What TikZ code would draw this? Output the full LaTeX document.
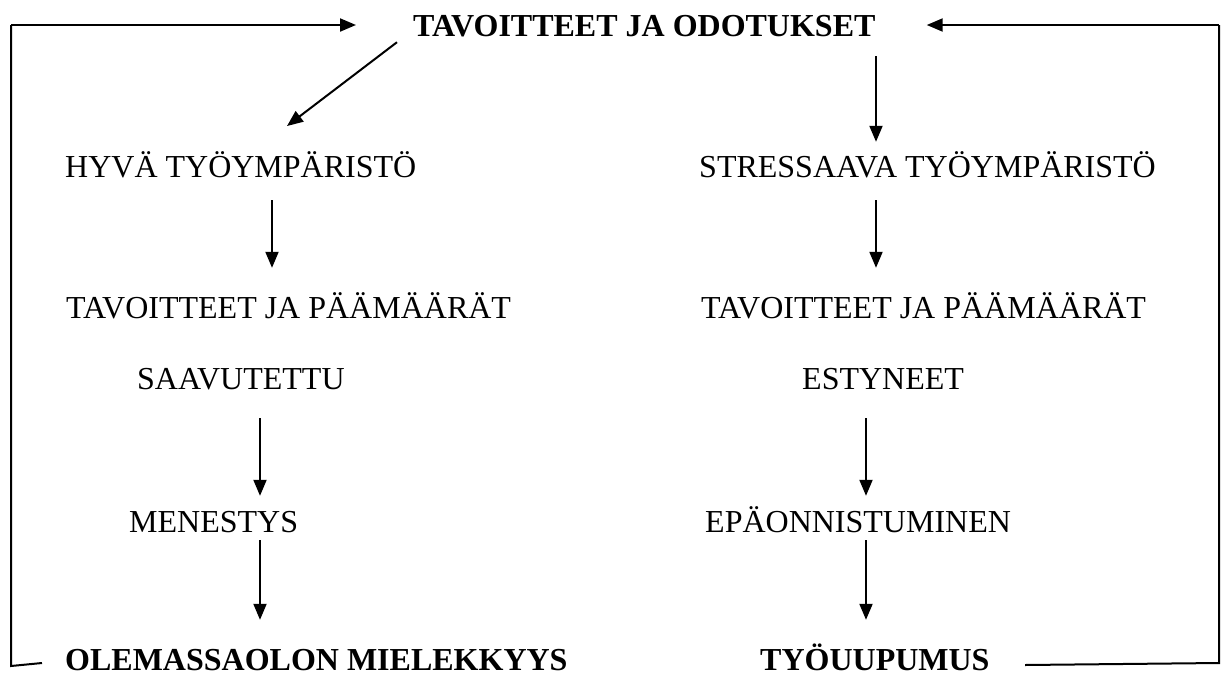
\documentclass[tikz,border=0pt]{standalone}
\usepackage{fontspec}
\setmainfont{Liberation Serif}
\usetikzlibrary{arrows.meta}
\begin{document}
\begin{tikzpicture}[x=1pt,y=-1pt,
  lbl/.style={anchor=base west,inner sep=0pt,text height=22pt,text depth=0pt,font=\fontsize{32}{38}\selectfont},
  blbl/.style={lbl,font=\fontsize{32}{38}\selectfont\bfseries},
  arr/.style={line width=2pt,-{Triangle[length=16pt,width=13pt]}},
  ln/.style={line width=2pt}]
\useasboundingbox (0,0) rectangle (1229,678);
% texts
\node[blbl] (goal) at (413,36) {TAVOITTEET JA ODOTUKSET};
\node[lbl] (hyva) at (65,177) {HYVÄ TYÖYMPÄRISTÖ};
\node[lbl] (stress) at (699,177) {STRESSAAVA TYÖYMPÄRISTÖ};
\node[lbl] (tavL) at (66,318) {TAVOITTEET JA PÄÄMÄÄRÄT};
\node[lbl] (tavR) at (701,318) {TAVOITTEET JA PÄÄMÄÄRÄT};
\node[lbl] (saav) at (137,389) {SAAVUTETTU};
\node[lbl] (estyn) at (802,389) {ESTYNEET};
\node[lbl] (menes) at (129,532) {MENESTYS};
\node[lbl] (epao) at (705,532) {EPÄONNISTUMINEN};
\node[blbl] (olem) at (65,670) {OLEMASSAOLON MIELEKKYYS};
\node[blbl] (tyo) at (760,670) {TYÖUUPUMUS};
% arrow columns
\coordinate (xa) at (272,0);
\coordinate (xb) at (876,0);
\coordinate (xc) at (260,0);
\coordinate (xd) at (866,0);
% loop corners
\coordinate (lt) at (11,25);
\coordinate (lb) at (11,666);
\coordinate (lbe) at (42,663);
\coordinate (rt) at (1219,25);
\coordinate (rb) at (1219,663);
\coordinate (rbe) at (1025,665);
\coordinate (dtip) at (287,126);
% loops
\draw[ln] (lbe) -- (lb) -- (lt);
\draw[arr,shorten >=57pt] (lt) -- (goal.west);
\draw[ln] (rbe) -- (rb) -- (rt);
\draw[arr,shorten >=51pt] (rt) -- (goal.east);
% diagonal
\draw[arr] ([xshift=-16pt,yshift=-6pt]goal.south west) -- (dtip);
% vertical arrows
\draw[arr,shorten <=20pt,shorten >=13pt] (goal.south -| xb) -- (stress.north -| xb);
\draw[arr,shorten <=23pt,shorten >=28pt] (hyva.south -| xa) -- (tavL.north -| xa);
\draw[arr,shorten <=23pt,shorten >=28pt] (stress.south -| xb) -- (tavR.north -| xb);
\draw[arr,shorten <=29pt,shorten >=14pt] (saav.south -| xc) -- (menes.north -| xc);
\draw[arr,shorten <=29pt,shorten >=14pt] (estyn.south -| xd) -- (epao.north -| xd);
\draw[arr,shorten <=8pt,shorten >=28pt] (menes.south -| xc) -- (olem.north -| xc);
\draw[arr,shorten <=8pt,shorten >=28pt] (epao.south -| xd) -- (tyo.north -| xd);
\end{tikzpicture}
\end{document}
